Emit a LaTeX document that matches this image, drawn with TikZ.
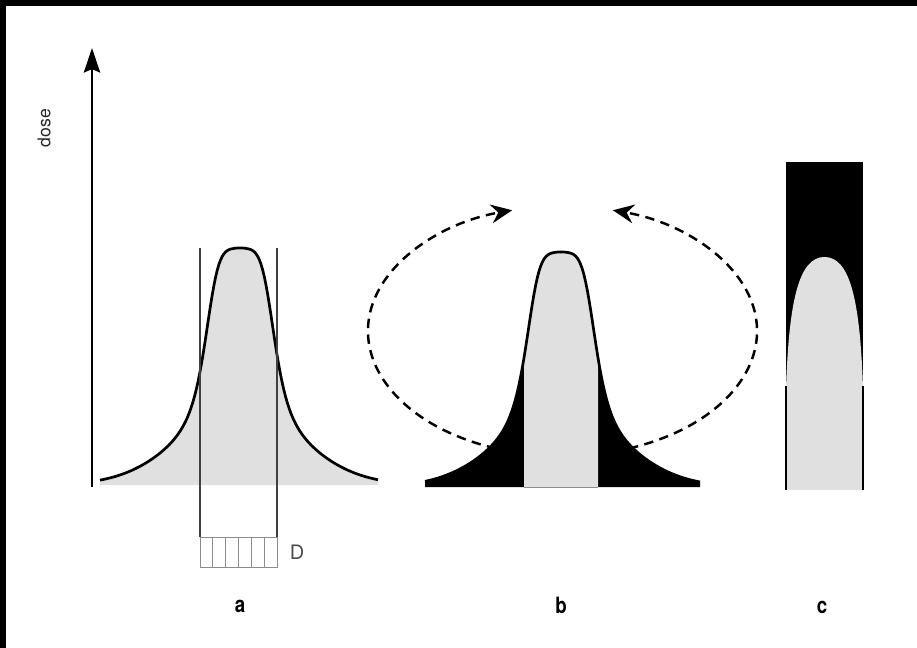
\documentclass[tikz,border=0pt]{standalone}
\usepackage{fontspec}
\setmainfont{TeX Gyre Heros}
\usetikzlibrary{arrows.meta, calc}

% dose profile: rounded top, long tails (pixel units, y downwards)
\newcommand{\ratio}[1]{(0.7/(1+(abs(#1)/35)^5)+0.3*exp(0-((#1)/85)^2))}
\newcommand{\bell}[4]{#2-#4*\ratio{#1-#3}}

\begin{document}
\begin{tikzpicture}[
        x=0.03cm, y=-0.03cm,
        profile/.style={line width=2.3pt, line join=round},
        bodyfill/.style={fill=black!12},
        tailfill/.style={fill=black},
        beam/.style={draw=black!75, line width=0.9pt},
        cell/.style={draw=black!45, line width=0.6pt},
        rotation/.style={line width=2.1pt, dash pattern=on 8pt off 5.5pt,
            -{Stealth[length=18pt, width=16pt, inset=6pt]}},
        axis/.style={line width=1.6pt, -{Stealth[length=21pt, width=14pt, inset=3pt]}},
        panel/.style={font=\fontsize{16}{16}\selectfont\bfseries, yscale=1.2}
    ]
        \useasboundingbox (0,0) rectangle (917,648);
        \fill[white] (0,0) rectangle (917,648);
        \fill[black] (0,0) rectangle (917,6);
        \fill[black] (0,0) rectangle (6,648);

        % a: profile with the beam and the detector
        \fill[bodyfill] (100,485) -- plot[domain=100:378, samples=160]
            (\x, {\bell{\x}{485}{240}{237}}) -- (378,485) -- cycle;
        \draw[profile] plot[domain=100:378, samples=160]
            (\x, {\bell{\x}{485}{240}{237}});
        \draw[beam] (200,248) -- (200,537);
        \draw[beam] (277,248) -- (277,537);
        \draw[cell] (200,537) rectangle (277,567);
        \foreach \k in {1,...,5} {
            \draw[cell] (200+\k*77/6,537) -- +(0,30);
        }
        \node[font=\fontsize{17}{17}\selectfont, text=black!70] (detLabel)
            at (297,552) {D};

        \coordinate (origin) at (92,487);
        \coordinate (axisTop) at (92,48);
        \draw[axis] (origin) -- (axisTop);
        \node[font=\fontsize{15}{15}\selectfont, rotate=90, text=black!85] (dose)
            at (44,128) {dose};

        % b: rotation, tails in black
        \fill[tailfill] (425,487) -- plot[domain=425:524, samples=80]
            (\x, {\bell{\x}{487}{561}{235}}) -- (524,487) -- cycle;
        \fill[tailfill] (598,487) -- plot[domain=598:700, samples=80]
            (\x, {\bell{\x}{487}{561}{235}}) -- (700,487) -- cycle;
        \fill[bodyfill] (524,487) -- plot[domain=524:598, samples=80]
            (\x, {\bell{\x}{487}{561}{235}}) -- (598,487) -- cycle;
        \draw[black!45, line width=0.6pt] (524,487) -- (598,487);
        \draw[profile] plot[domain=425:700, samples=160]
            (\x, {\bell{\x}{487}{561}{235}});

        \coordinate (rotCentre) at (562.5,331);
        \draw[rotation] ($(rotCentre)+(110:194.5 and 125)$)
            arc[start angle=110, end angle=255, x radius=194.5, y radius=125];
        \draw[rotation] ($(rotCentre)+(70:194.5 and 125)$)
            arc[start angle=70, end angle=-75, x radius=194.5, y radius=125];

        % c: summed profile
        \fill[tailfill] (786,162) rectangle (863,400);
        \fill[bodyfill] (786,490) -- (786,388)
            .. controls (789,300) and (799,257) .. (824.5,257)
            .. controls (850,257) and (860,300) .. (863,388)
            -- (863,490) -- cycle;
        \draw[line width=1pt] (786,386) -- (786,490);
        \draw[line width=1pt] (863,386) -- (863,490);

        \node[panel] (labelA) at (240,606) {a};
        \node[panel] (labelB) at (561,605) {b};
        \node[panel] (labelC) at (822,607) {c};
    \end{tikzpicture}
\end{document}
